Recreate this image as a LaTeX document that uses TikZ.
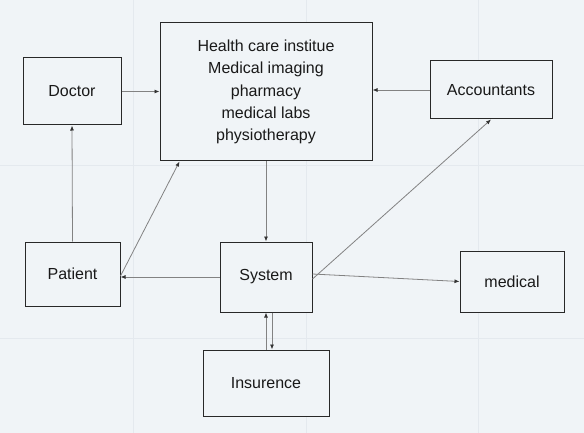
\documentclass[tikz,border=0pt]{standalone}
\usepackage{fontspec}
\setmainfont{Liberation Sans}
\usepackage{tikz}
\usetikzlibrary{arrows.meta}
\definecolor{paper}{RGB}{240,244,247}
\definecolor{gridline}{RGB}{228,233,238}
\definecolor{edge}{RGB}{40,40,40}
\definecolor{wire}{RGB}{130,130,130}
\tikzset{
  box/.style={draw=edge,line width=1pt,fill=paper,inner sep=0pt,
    font=\fontsize{16}{22.3}\selectfont,align=center,text=black!90},
  wirearrow/.style={draw=wire,line width=0.8pt,-{Latex[length=5pt,width=4pt,color=black!80]}}
}
\begin{document}
\begin{tikzpicture}[x=1pt,y=-1pt]
\fill[paper](0,0)rectangle(584,433);
\useasboundingbox (0,0) rectangle (584,433);
\draw[gridline][line width=0.6pt](133,0)--(133,433);
\draw[gridline][line width=0.6pt](306,0)--(306,433);
\draw[gridline][line width=0.6pt](478,0)--(478,433);
\draw[gridline][line width=0.6pt](0,165)--(584,165);
\draw[gridline][line width=0.6pt](0,338)--(584,338);
\node (doctor) at (72,91.5) [box][minimum width=98pt,minimum height=67pt]{Doctor};
\node (care) at (266,92) [box][minimum width=212pt,minimum height=138pt]{Health care institue\\Medical imaging\\pharmacy\\medical labs\\physiotherapy};
\node (accountants) at (491,90) [box][minimum width=122pt,minimum height=58pt]{Accountants};
\node (patient) at (72.5,274) [box][minimum width=95pt,minimum height=64pt]{Patient};
\node (system) at (266,277) [box][minimum width=92pt,minimum height=70pt]{System};
\node (medical) at (512,281.5) [box][minimum width=104pt,minimum height=61pt]{medical};
\node (insurence) at (266,383) [box][minimum width=126pt,minimum height=66pt]{Insurence};
\draw [wirearrow](doctor.east)--(doctor.east -| care.west);
\draw [wirearrow](accountants.west)--(accountants.west -| care.east);
\draw [wirearrow](patient.north)--(doctor.south);
\draw [wirearrow]([yshift=-2pt]patient.east)--([xshift=20pt]care.south west);
\draw [wirearrow](system.west)--(system.west -| patient.east);
\draw [wirearrow](care.south)--(system.north);
\draw [wirearrow]([yshift=-2pt]system.east)--(accountants.south);
\draw [wirearrow]([yshift=3pt]system.east)--(medical.west);
\draw [wirearrow](insurence.north)--(system.south);
\draw [wirearrow]([xshift=6pt]system.south)--([xshift=6pt]insurence.north);
\end{tikzpicture}
\end{document}
